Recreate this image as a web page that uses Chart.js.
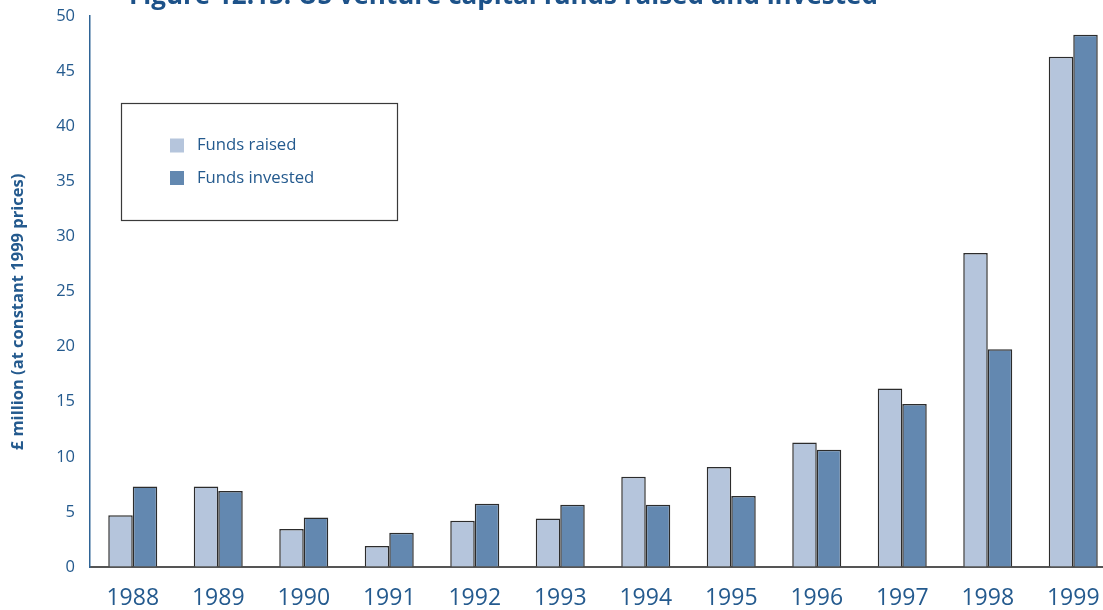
<!DOCTYPE html>
<html>
<head>
<meta charset="utf-8">
<title>US venture capital funds raised and invested</title>
<script src="https://cdn.jsdelivr.net/npm/chart.js@4/dist/chart.umd.min.js"></script>
<style>
  html, body { margin: 0; padding: 0; background: #ffffff; overflow: hidden; }
  #wrap { position: relative; width: 1103px; height: 610px; overflow: hidden; }
  #c { position: absolute; left: 0; top: 0; }
</style>
</head>
<body>
<div id="wrap"><canvas id="c" width="1116" height="610"></canvas></div>
<script>
// Years on the category axis
const years = ['1988', '1989', '1990', '1991', '1992', '1993', '1994', '1995', '1996', '1997', '1998', '1999'];

// £ million at constant 1999 prices
const fundsRaised   = [4.7, 7.3, 3.45, 1.9, 4.2, 4.4, 8.2, 9.07, 11.3, 16.2, 28.5, 46.3];
const fundsInvested = [7.3, 6.9, 4.5, 3.1, 5.75, 5.65, 5.65, 6.45, 10.65, 14.8, 19.75, 48.3];

const seriesNames = ['Funds raised', 'Funds invested'];
const yTickStep = 5;
const yMax = 50;

const chartTitle = 'Figure 12.15: US venture capital funds raised and invested';
const yCaption = '£ million (at constant 1999 prices)';

const TEXT_BLUE = '#245a8e';
const FONT = '"Open Sans", "Noto Sans", sans-serif';

// Title, rotated axis caption and boxed legend drawn straight on the canvas
const decorations = {
  id: 'decorations',
  afterDraw(chart) {
    const ctx = chart.ctx;
    ctx.save();
    // heading (sits partly above the top edge)
    ctx.fillStyle = '#1d5289';
    ctx.font = 'bold 26px ' + FONT;
    ctx.textAlign = 'left';
    ctx.textBaseline = 'alphabetic';
    ctx.fillText(chartTitle, 129, 4);

    // vertical axis caption
    ctx.save();
    ctx.translate(18, 312);
    ctx.rotate(-Math.PI / 2);
    ctx.font = 'bold 16.5px ' + FONT;
    ctx.fillStyle = TEXT_BLUE;
    ctx.textAlign = 'center';
    ctx.textBaseline = 'middle';
    ctx.fillText(yCaption, 0, 0);
    ctx.restore();

    // legend box
    ctx.strokeStyle = '#3a3a3a';
    ctx.lineWidth = 1.2;
    ctx.fillStyle = '#ffffff';
    ctx.fillRect(121, 103, 276, 117);
    ctx.strokeRect(121.5, 103.5, 276, 117);
    ctx.font = '16.7px ' + FONT;
    ctx.textAlign = 'left';
    ctx.textBaseline = 'middle';
    chart.data.datasets.forEach((ds, i) => {
      const y = 145.5 + i * 32.5;
      ctx.fillStyle = ds.backgroundColor;
      ctx.fillRect(170, y - 7, 14, 14);
      ctx.fillStyle = TEXT_BLUE;
      ctx.fillText(ds.label, 197, y);
    });
    ctx.restore();
  }
};

new Chart(document.getElementById('c'), {
  type: 'bar',
  data: {
    labels: years,
    datasets: [
      {
        label: seriesNames[0],
        data: fundsRaised,
        backgroundColor: '#b5c5dc',
        borderColor: '#2c2c2c',
        borderWidth: 1.5
      },
      {
        label: seriesNames[1],
        data: fundsInvested,
        backgroundColor: '#6388b0',
        borderColor: '#2c2c2c',
        borderWidth: 1.5
      }
    ]
  },
  options: {
    responsive: false,
    animation: false,
    devicePixelRatio: 1,
    layout: { padding: { top: 16, right: 0, left: 0, bottom: 0 } },
    datasets: {
      bar: { categoryPercentage: 0.573, barPercentage: 1.0 }
    },
    plugins: {
      legend: { display: false },
      title: { display: false },
      tooltip: { enabled: false }
    },
    scales: {
      x: {
        grid: { drawOnChartArea: false, drawTicks: false },
        border: { display: true, color: '#555555', width: 2 },
        ticks: {
          color: TEXT_BLUE,
          font: { family: FONT, size: 23 },
          padding: 18,
          maxRotation: 0,
          autoSkip: false
        },
        afterFit(scale) {
          scale.height = 43;
          scale.paddingLeft = 0;
          scale.paddingRight = 0;
        }
      },
      y: {
        min: 0,
        max: yMax,
        grid: { drawOnChartArea: false, drawTicks: false },
        border: { display: true, color: '#2f6496', width: 1.5 },
        ticks: {
          stepSize: yTickStep,
          color: TEXT_BLUE,
          font: { family: FONT, size: 16.5 },
          padding: 15
        },
        afterFit(scale) {
          scale.width = 90;
          scale.paddingTop = 0;
          scale.paddingBottom = 0;
        }
      }
    }
  },
  plugins: [decorations]
});
</script>
</body>
</html>
